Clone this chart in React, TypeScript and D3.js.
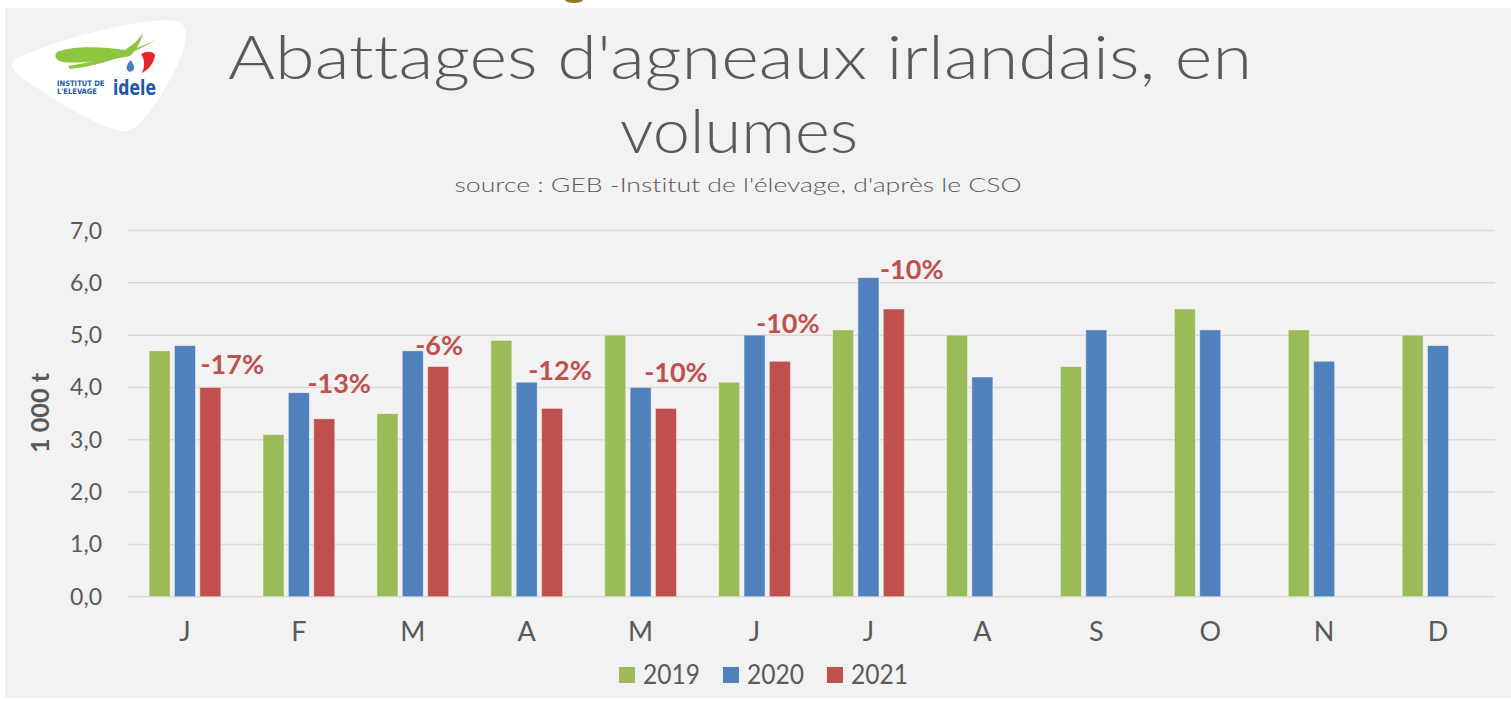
import React from "react";
import * as d3 from "d3";

const months = ["J", "F", "M", "A", "M", "J", "J", "A", "S", "O", "N", "D"];
const years = ["2019", "2020", "2021"];
const values2019 = [4.7, 3.1, 3.5, 4.9, 5.0, 4.1, 5.1, 5.0, 4.4, 5.5, 5.1, 5.0];
const values2020 = [4.8, 3.9, 4.7, 4.1, 4.0, 5.0, 6.1, 4.2, 5.1, 5.1, 4.5, 4.8];
const values2021 = [4.0, 3.4, 4.4, 3.6, 3.6, 4.5, 5.5];
const changeLabels = ["-17%", "-13%", "-6%", "-12%", "-10%", "-10%", "-10%"];
const yTicks = [0, 1, 2, 3, 4, 5, 6, 7];

const colors = ["#9BBB59", "#4F81BD", "#C0504D"];
const textColor = "#595959";
const FONT = "Lato, 'Open Sans', sans-serif";

// layout nudges for the hand-placed change labels (dx, dy from red bar centre/top)
const labelNudges: [number, number][] = [
  [22, -13], [15, -26], [1, -12], [8, -28], [10, -26], [8, -28], [18, -30],
];

export default function App() {
  const W = 1511, H = 701;
  const x = d3.scaleBand<number>().domain(d3.range(12)).range([128, 1495]).paddingInner(0.37).paddingOuter(0.185);
  const xs = d3.scaleBand<number>().domain(d3.range(3)).range([0, x.bandwidth()]).paddingInner(0.17);
  const y = d3.scaleLinear().domain([0, 7]).range([596.7, 230.5]);
  const series = [values2019, values2020, values2021];
  const fmt = (v: number) => d3.format(".1f")(v).replace(".", ",");
  const noLig = { fontVariantLigatures: "none" as const };

  return (
    <div style={{ position: "absolute", left: 0, top: 0 }}>
      <svg width={W} height={H} style={{ display: "block", background: "#fff" }}>
        <rect x={5} y={8} width={W - 5} height={690} fill="#f2f2f2" />
        <ellipse cx={574} cy={0} rx={9} ry={3} fill="#8d7b2c" />
        {/* logo */}
        <g>
          <path d="M 20,57 C 60,38 150,16 176,21 C 192,25 186,48 176,68 C 160,100 142,126 128,131 C 112,136 45,95 20,76 C 9,68 10,62 20,57 Z" fill="#ffffff" />
          <path d="M 57,52 C 75,45 105,47 125,50 C 133,45 139,39 143,33 C 141,42 136,50 130,56 C 110,60 80,64 62,62 C 55,60 54,55 57,52 Z" fill="#8dc63f" />
          <path d="M 68,66 C 95,62 130,52 156,40 C 130,55 100,66 70,69 Z" fill="#8dc63f" />
          <path d="M 141,54 C 148,50 154,52 155,55 C 154,63 149,69 142,73 C 145,66 145,60 141,54 Z" fill="#e3262b" />
          <path d="M 131,60 C 127,64 125,68 128,71 C 131,73 135,70 134,66 C 133,64 132,62 131,60 Z" fill="#4a7fc1" />
          <text x={57} y={86} fontFamily="'DejaVu Sans Condensed', 'DejaVu Sans', sans-serif" fontWeight="bold" fontSize={7.5} fill="#1d59a6">INSTITUT DE</text>
          <text x={57} y={94} fontFamily="'DejaVu Sans Condensed', 'DejaVu Sans', sans-serif" fontWeight="bold" fontSize={7.5} fill="#1d59a6">L'ELEVAGE</text>
          <text x={113} y={95} fontFamily="'DejaVu Sans', sans-serif" fontWeight="bold" fontSize={21} fill="#1d59a6" textLength={43} lengthAdjust="spacingAndGlyphs">idele</text>
        </g>
        {/* titles */}
        <text x={740} y={79} textAnchor="middle" fontFamily={FONT} fontWeight={300} fontSize={61} fill={textColor} textLength={1024} lengthAdjust="spacingAndGlyphs" style={noLig}>Abattages d'agneaux irlandais, en</text>
        <text x={739} y={153} textAnchor="middle" fontFamily={FONT} fontWeight={300} fontSize={61} fill={textColor} textLength={238} lengthAdjust="spacingAndGlyphs" style={noLig}>volumes</text>
        <text x={738} y={192} textAnchor="middle" fontFamily={FONT} fontWeight={300} fontSize={20} fill={textColor} textLength={567} lengthAdjust="spacingAndGlyphs" style={noLig}>source : GEB -Institut de l'élevage, d'après le CSO</text>
        {/* grid */}
        {yTicks.map((t) => (
          <g key={t}>
            <line x1={128} x2={1495} y1={y(t)} y2={y(t)} stroke="#d9d9d9" strokeWidth={1.5} />
            <text x={102} y={y(t) + 8} textAnchor="end" fontFamily={FONT} fontSize={23} fill={textColor}>{fmt(t)}</text>
          </g>
        ))}
        <text transform="translate(49,413) rotate(-90)" textAnchor="middle" fontFamily={FONT} fontWeight="bold" fontSize={24} fill={textColor} textLength={80} lengthAdjust="spacingAndGlyphs">1 000 t</text>
        {/* bars */}
        {series.map((vals, si) =>
          vals.map((v, i) => (
            <rect key={`${si}-${i}`} x={(x(i) as number) + (xs(si) as number)} y={y(v)} width={xs.bandwidth()} height={y(0) - y(v)} fill={colors[si]} stroke="#ffffff" strokeOpacity={0.45} strokeWidth={1} />
          ))
        )}
        {/* change labels */}
        {changeLabels.map((l, i) => (
          <text key={i} x={(x(i) as number) + (xs(2) as number) + xs.bandwidth() / 2 + labelNudges[i][0]} y={y(values2021[i]) + labelNudges[i][1]} textAnchor="middle" fontFamily={FONT} fontWeight="bold" fontSize={27} fill="#C0504D">{l}</text>
        ))}
        {/* x labels */}
        {months.map((m, i) => (
          <text key={i} x={(x(i) as number) + x.bandwidth() / 2} y={641} textAnchor="middle" fontFamily={FONT} fontSize={27} fill={textColor}>{m}</text>
        ))}
        {/* legend */}
        {years.map((yr, i) => {
          const lx = [619, 723, 827][i];
          return (
            <g key={yr}>
              <rect x={lx} y={667} width={16} height={16} fill={colors[i]} />
              <text x={lx + 24} y={684} fontFamily={FONT} fontSize={27} fill={textColor} textLength={57} lengthAdjust="spacingAndGlyphs">{yr}</text>
            </g>
          );
        })}
      </svg>
    </div>
  );
}
